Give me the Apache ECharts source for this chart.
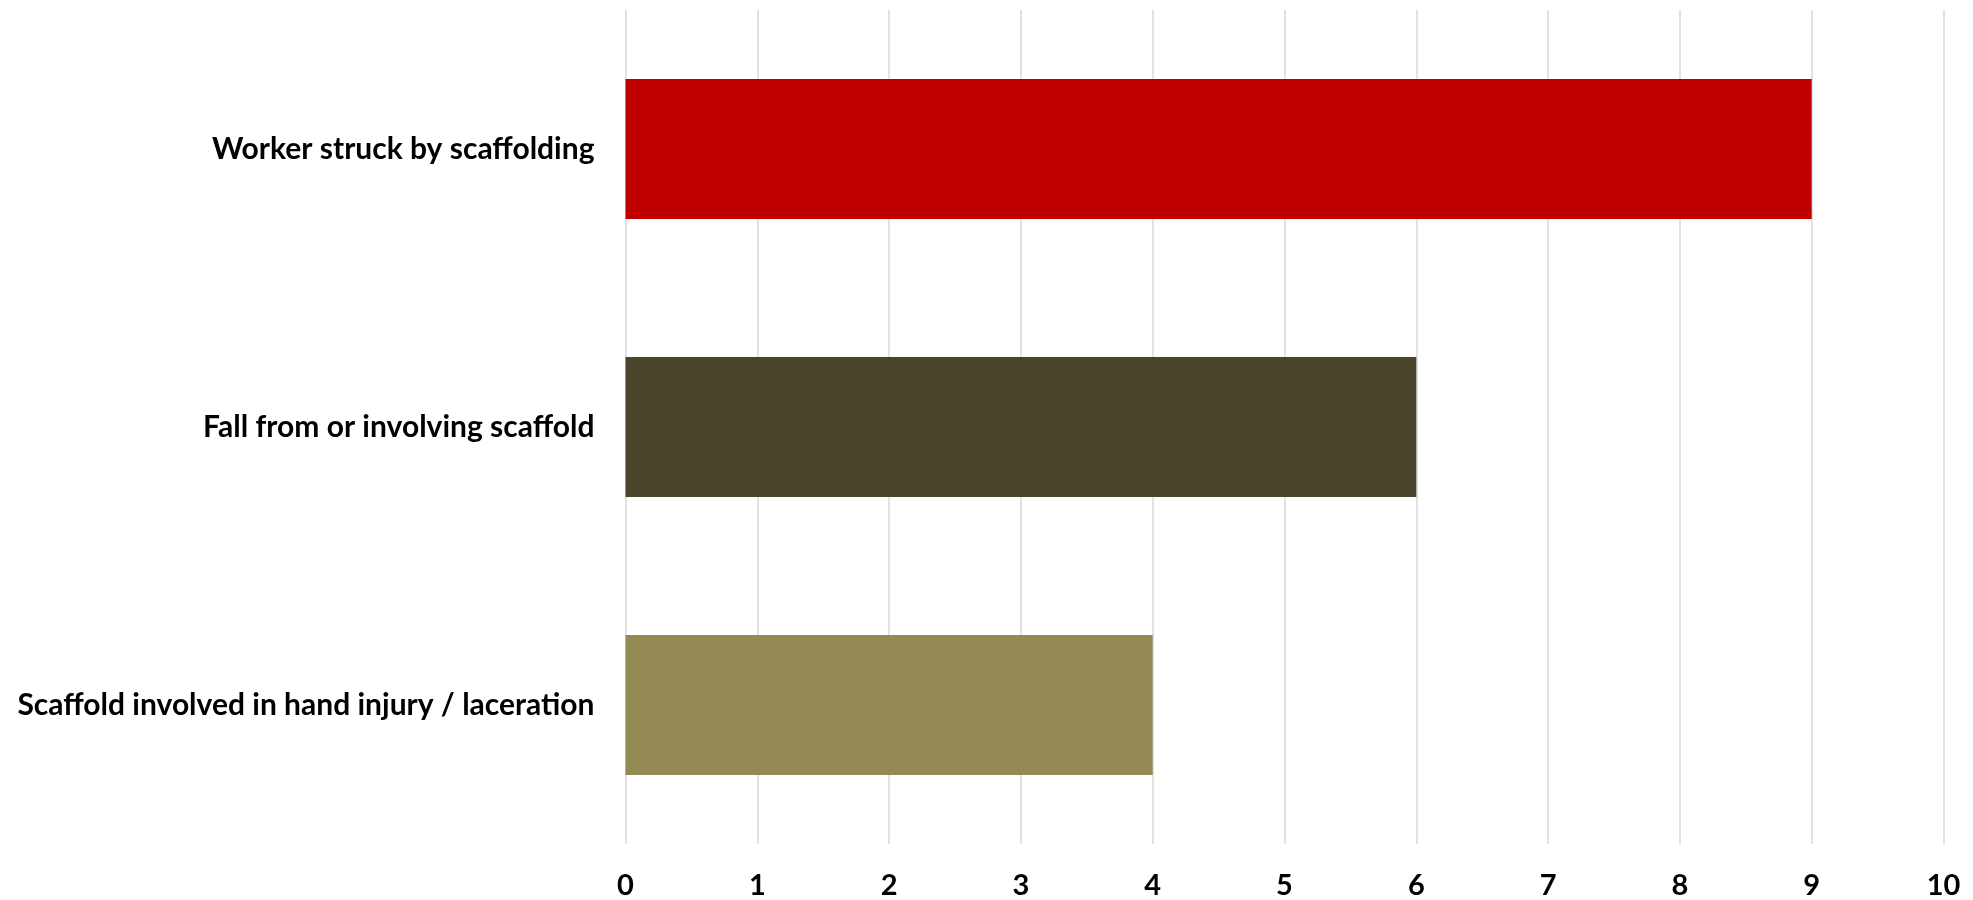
<!DOCTYPE html>
<html>
<head>
<meta charset="utf-8">
<script src="https://cdn.jsdelivr.net/npm/echarts@6/dist/echarts.min.js"></script>
<style>
  html, body { margin: 0; padding: 0; background: #ffffff; }
  #chart { width: 1973px; height: 900px; }
</style>
</head>
<body>
<div id="chart"></div>
<script>
// Scaffold-related incident counts by type
const categories = [
  'Worker struck by scaffolding',
  'Fall from or involving scaffold',
  'Scaffold involved in hand injury / laceration'
];
const counts = [9, 6, 4];
const barColors = ['#C00000', '#4A452A', '#948A54'];
const xTicks = [0, 1, 2, 3, 4, 5, 6, 7, 8, 9, 10];

const fontFamily = 'Lato, "Open Sans", "Liberation Sans", sans-serif';

const chart = echarts.init(document.getElementById('chart'), null, { renderer: 'canvas' });
chart.setOption({
  backgroundColor: '#ffffff',
  animation: false,
  grid: { left: 625.5, right: 29.5, top: 10, bottom: 55, containLabel: false },
  xAxis: {
    type: 'value',
    min: xTicks[0],
    max: xTicks[xTicks.length - 1],
    interval: 1,
    axisLine: { show: false },
    axisTick: { show: false },
    splitLine: { show: true, lineStyle: { color: '#D9D9D9', width: 1.5 } },
    axisLabel: {
      margin: 27,
      color: '#000000',
      fontFamily: fontFamily,
      fontWeight: 'bold',
      fontSize: 29
    }
  },
  yAxis: {
    type: 'category',
    inverse: true,
    data: categories,
    axisLine: { show: false },
    axisTick: { show: false },
    axisLabel: {
      margin: 31,
      color: '#000000',
      fontFamily: fontFamily,
      fontWeight: 'bold',
      fontSize: 30
    }
  },
  series: [{
    type: 'bar',
    barWidth: 140,
    data: counts.map((v, i) => ({ value: v, itemStyle: { color: barColors[i] } }))
  }]
});
</script>
</body>
</html>
